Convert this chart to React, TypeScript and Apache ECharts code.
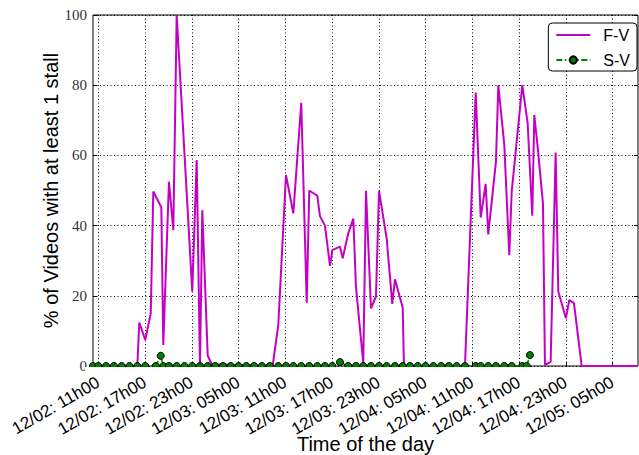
import { useEffect, useRef } from 'react';
import * as echarts from 'echarts';

// Hours counted from 12/02 00h00
const xTickHours = [11, 17, 23, 29, 35, 41, 47, 53, 59, 65, 71, 77];
const xTickLabels = [
  '12/02: 11h00', '12/02: 17h00', '12/02: 23h00', '12/03: 05h00',
  '12/03: 11h00', '12/03: 17h00', '12/03: 23h00', '12/04: 05h00',
  '12/04: 11h00', '12/04: 17h00', '12/04: 23h00', '12/05: 05h00',
];
const xMin = 10.32;
const xMax = 80.27;
const yMin = 0;
const yMax = 100;
const yStep = 20;

const seriesNames = ['F-V', 'S-V'];

const fvHours = [
  10.32, 16.01, 16.26, 17.03, 17.73, 18.06, 19.09, 19.34, 20.07, 20.63, 21.06,
  23.06, 23.63, 24.05, 24.35, 25.04, 25.55,
  33.38, 34.10, 35.09, 36.03, 37.05, 37.75, 38.08, 39.11, 39.45, 40.09, 40.74,
  41.03, 42.02, 42.37, 43.08, 43.73, 44.07, 45.01, 45.36, 46.00, 46.64, 47.03,
  48.01, 48.73, 49.08, 50.07, 50.23,
  58.06, 59.44, 60.08, 60.72, 61.05, 62.04, 62.34, 63.11, 63.75, 64.06, 65.42,
  66.11, 66.70, 66.96, 67.39, 68.07, 68.33, 69.06, 69.70, 70.04, 71.02, 71.45,
  72.05, 73.04, 80.27,
];
const fvValues = [
  0, 0, 12.4, 7.4, 15, 49.7, 45.2, 6, 52.5, 38.7, 100,
  21.2, 58.7, 0, 44.4, 3, 0.5,
  0, 11.7, 54.4, 43.5, 75, 18, 50, 48.5, 42.7, 40, 28.5,
  33, 34, 30.7, 37.8, 42, 22.6, 0.8, 49.9, 16.4, 19.8, 49.9,
  36.4, 17.7, 24.7, 16.6, 0,
  0, 77.9, 42.3, 51.9, 37.5, 58.2, 80, 63, 31.6, 49.7, 80,
  69.1, 42.8, 71.5, 62.5, 46.4, 0.3, 1.2, 60.8, 21.2, 13.6, 18.8,
  17.9, 0, 0,
];

const svHours = [
  10.32, 11.0, 12.0, 13.0, 14.0, 15.0, 16.01, 17.03, 18.37, 19.01, 19.34,
  20.07, 21.06, 22.06, 23.06, 24.05, 25.04, 26.0, 27.0, 28.0, 29.0, 30.0,
  31.0, 32.0, 33.0, 34.1, 35.09, 36.03, 37.05, 38.08, 39.11, 40.09, 41.03,
  42.02, 43.08, 44.07, 45.01, 46.0, 47.03, 48.01, 49.08, 50.07, 51.0, 52.0,
  53.0, 54.0, 55.0, 56.0, 57.0, 58.06, 59.44, 60.08, 61.05, 62.04, 63.11,
  64.06, 65.42, 65.98, 66.40,
];
const svValues = [
  0, 0, 0, 0, 0, 0, 0, 0, 0, 2.9, 0,
  0, 0, 0, 0, 0, 0, 0, 0, 0, 0, 0,
  0, 0, 0, 0, 0, 0, 0, 0, 0, 0, 0,
  1.1, 0, 0, 0, 0, 0, 0, 0, 0, 0, 0,
  0, 0, 0, 0, 0, 0, 0, 0, 0, 0, 0,
  0, 0, 0, 3.1,
];

const MAGENTA = '#c400c4';
const GREEN = '#008000';

export default function App() {
  const ref = useRef<HTMLDivElement>(null);

  useEffect(() => {
    if (!ref.current) return;
    const chart = echarts.init(ref.current, null, { renderer: 'svg' });
    const fvData = fvHours.map((h, i) => [h, fvValues[i]]);
    const svData = svHours.map((h, i) => [h, svValues[i]]);
    const dotted = { color: '#000', width: 1, type: [1, 2.5] as any };

    chart.setOption({
      animation: false,
      backgroundColor: '#fff',
      textStyle: { fontFamily: 'Liberation Sans' },
      grid: {
        left: 93, right: 1, top: 15, bottom: 89,
        outerBoundsMode: 'none',
        containLabel: false,
        show: true, borderColor: '#000', borderWidth: 1, backgroundColor: 'transparent',
      },
      legend: {
        orient: 'vertical',
        right: 2,
        top: 23,
        itemWidth: 34,
        itemHeight: 9,
        itemGap: 9,
        padding: [4, 7, 3, 7],
        borderColor: '#000',
        borderWidth: 1,
        borderRadius: 4,
        backgroundColor: '#fff',
        textStyle: { fontSize: 16, color: '#000', fontFamily: 'Liberation Sans', padding: [0, 0, 0, 8] },
        data: [
          { name: seriesNames[0], itemStyle: { opacity: 0 } },
          { name: seriesNames[1] },
        ],
      },
      xAxis: [
        {
          type: 'value',
          min: xMin,
          max: xMax,
          name: 'Time of the day',
          nameLocation: 'middle',
          nameGap: 68,
          nameMoveOverlap: false,
          nameTextStyle: { fontSize: 20, color: '#000', fontFamily: 'Liberation Sans' },
          axisLine: { show: false },
          axisTick: { show: true, inside: true, length: 4, customValues: xTickHours, lineStyle: { color: '#000' } },
          axisLabel: {
            customValues: xTickHours,
            rotate: 30,
            margin: 15,
            fontSize: 17,
            color: '#000',
            fontFamily: 'Liberation Sans',
            hideOverlap: false,
            formatter: (v: number) => {
              const i = xTickHours.indexOf(v);
              return i >= 0 ? xTickLabels[i] : '';
            },
          },
          splitLine: { show: true, lineStyle: dotted },
        },
        {
          type: 'value',
          position: 'top',
          min: xMin,
          max: xMax,
          axisLine: { show: false },
          axisTick: { show: true, inside: true, length: 4, customValues: xTickHours, lineStyle: { color: '#000' } },
          axisLabel: { show: false },
          splitLine: { show: false },
        },
      ],
      yAxis: [
        {
          type: 'value',
          min: yMin,
          max: yMax,
          interval: yStep,
          name: '% of Videos with at least 1 stall',
          nameLocation: 'middle',
          nameGap: 32,
          nameMoveOverlap: false,
          nameTextStyle: { fontSize: 20, color: '#000', fontFamily: 'Liberation Sans' },
          axisLine: { show: false },
          axisTick: { show: true, inside: true, length: 4, lineStyle: { color: '#000' } },
          axisLabel: { fontSize: 15, color: '#333', fontFamily: 'Liberation Serif', margin: 6 },
          splitLine: { show: true, lineStyle: dotted },
        },
        {
          type: 'value',
          position: 'right',
          min: yMin,
          max: yMax,
          interval: yStep,
          axisLine: { show: false },
          axisTick: { show: true, inside: true, length: 4, lineStyle: { color: '#000' } },
          axisLabel: { show: false },
          splitLine: { show: false },
        },
      ],
      graphic: [
        {
          type: 'rect',
          z: 50,
          shape: { x: 85, y: 367, width: 560, height: 6 },
          style: { fill: '#fff' },
          silent: true,
        },
      ],
      series: [
        {
          name: seriesNames[0],
          type: 'line',
          data: fvData,
          symbol: 'none',
          showSymbol: false,
          lineStyle: { color: MAGENTA, width: 2 },
          itemStyle: { color: MAGENTA },
          clip: true,
          z: 3,
        },
        {
          name: seriesNames[1],
          type: 'line',
          data: svData,
          symbol: 'circle',
          symbolSize: 7,
          lineStyle: { color: GREEN, width: 1.5, type: [6, 2.5, 1.5, 2.5] },
          itemStyle: { color: GREEN, borderColor: '#000', borderWidth: 1 },
          clip: true,
          z: 4,
        },
      ],
    });
    return () => chart.dispose();
  }, []);

  return (
    <div
      ref={ref}
      style={{ position: 'fixed', left: 0, top: 0, width: 639, height: 455, background: '#fff' }}
    />
  );
}
